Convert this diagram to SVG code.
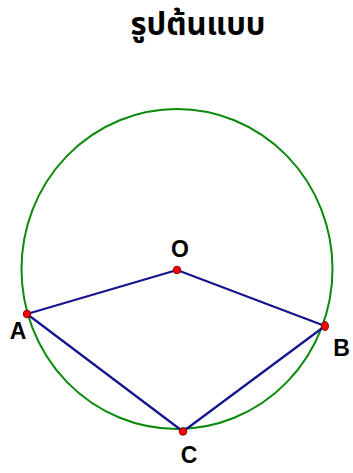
<svg xmlns="http://www.w3.org/2000/svg" width="353" height="473" viewBox="0 0 353 473">
<style>
.lbl{font-family:"Liberation Sans",Arial,sans-serif;font-weight:bold;font-size:23px;fill:#000;text-anchor:middle}
.title{font-family:"Noto Sans Thai","Noto Sans","DejaVu Sans",sans-serif;font-weight:bold;font-size:31px;fill:#000;text-anchor:middle}
.seg{stroke:#14148c;stroke-width:2.2;fill:none;stroke-linecap:round}
.pt{fill:#ff0000;stroke:#600;stroke-width:0.8}
</style>
<rect width="353" height="473" fill="#fff"/>
<text class="title" x="198" y="35">รูปต้นแบบ</text>
<ellipse id="circle" cx="177" cy="269" rx="155.5" ry="160" fill="none" stroke="#0a8a0a" stroke-width="2"/>
<g id="connectors">
<line class="seg" x1="27" y1="314" x2="177" y2="270"/>
<line class="seg" x1="177" y1="270" x2="325" y2="326"/>
<line class="seg" x1="27" y1="314" x2="183" y2="431.5"/>
<line class="seg" x1="183" y1="431.5" x2="325" y2="326"/>
</g>
<g id="O"><circle class="pt" cx="177" cy="270" r="3.8"/><text class="lbl" x="180" y="257">O</text></g>
<g id="A"><circle class="pt" cx="27" cy="314" r="3.8"/><text class="lbl" x="18" y="339">A</text></g>
<g id="B"><ellipse class="pt" cx="325" cy="326" rx="3.6" ry="4.6"/><text class="lbl" x="341.5" y="356">B</text></g>
<g id="C"><circle class="pt" cx="183" cy="431.5" r="3.8"/><text class="lbl" x="189" y="463">C</text></g>
</svg>
